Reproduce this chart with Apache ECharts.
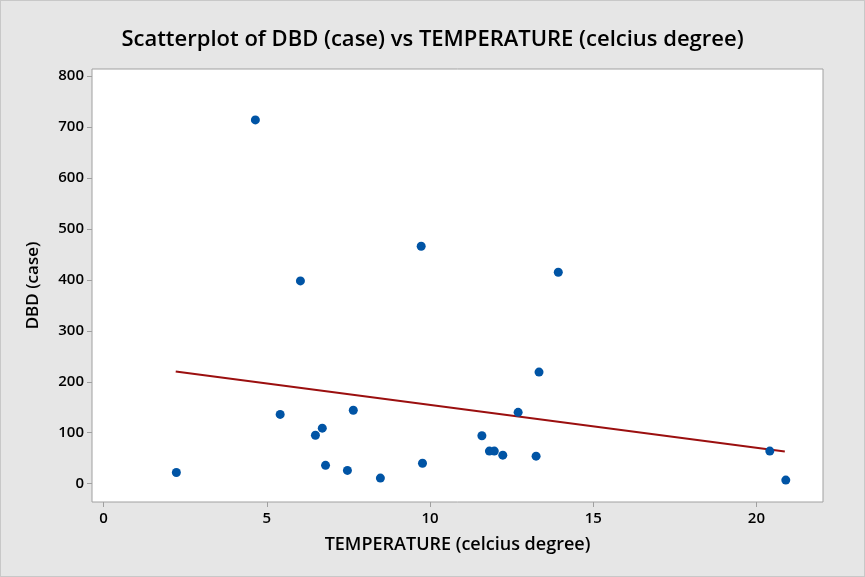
<!DOCTYPE html>
<html>
<head>
<meta charset="utf-8">
<script src="https://cdn.jsdelivr.net/npm/echarts@6/dist/echarts.min.js"></script>
<style>
  html, body { margin: 0; padding: 0; background: #ffffff; }
  #chart { width: 863px; height: 575px; border: 1px solid #c8c8c8; background: #e6e6e6; }
</style>
</head>
<body>
<div id="chart"></div>
<script>
'use strict';

// temperature (celcius degree) and DBD cases
var temperature = [2.23, 4.65, 6.03, 5.41, 6.49, 6.70, 6.80, 7.47, 7.65, 8.48, 9.73, 9.77,
    11.59, 11.82, 11.97, 12.23, 12.70, 13.25, 13.34, 13.93, 20.41, 20.90];
var dbdCases = [22, 714, 398, 136, 95, 109, 36, 26, 144, 11, 466, 40,
    94, 64, 64, 56, 140, 54, 219, 415, 64, 7];

// fitted regression line end points
var fitX = [2.21, 20.87];
var fitY = [220, 63];

var xTicks = [0, 5, 10, 15, 20];
var yTicks = [0, 100, 200, 300, 400, 500, 600, 700, 800];

var points = temperature.map(function(t, i) {
    return [t, dbdCases[i]];
});
var fitLine = fitX.map(function(t, i) {
    return [t, fitY[i]];
});

var FONT = '"Open Sans", "Noto Sans", sans-serif';

var myChart = echarts.init(document.getElementById('chart'));
var option = {
    animation: false,
    title: {
        text: 'Scatterplot of DBD (case) vs TEMPERATURE (celcius degree)',
        left: 'center',
        top: 23,
        textStyle: {
            fontFamily: FONT,
            fontSize: 22,
            fontWeight: 600,
            color: '#000'
        }
    },
    grid: {
        left: 91,
        top: 68,
        width: 731,
        height: 433,
        show: true,
        backgroundColor: '#ffffff',
        borderColor: '#a0a0a0',
        borderWidth: 1
    },
    xAxis: {
        type: 'value',
        min: -0.355,
        max: 22.04,
        name: 'TEMPERATURE (celcius degree)',
        nameLocation: 'middle',
        nameGap: 34,
        nameTextStyle: { fontFamily: FONT, fontSize: 18, fontWeight: 600, color: '#000' },
        splitLine: { show: false },
        axisLine: { show: false, onZero: false },
        axisTick: {
            show: true,
            customValues: xTicks,
            length: 5,
            lineStyle: { color: '#a0a0a0' }
        },
        axisLabel: {
            customValues: xTicks,
            margin: 9,
            fontFamily: FONT,
            fontSize: 15,
            fontWeight: 600,
            color: '#000'
        }
    },
    yAxis: {
        type: 'value',
        min: -36,
        max: 814,
        name: 'DBD (case)',
        nameLocation: 'middle',
        nameGap: 50,
        nameTextStyle: { fontFamily: FONT, fontSize: 17, fontWeight: 600, color: '#000' },
        splitLine: { show: false },
        axisLine: { show: false, onZero: false },
        axisTick: {
            show: true,
            customValues: yTicks,
            length: 5,
            lineStyle: { color: '#a0a0a0' }
        },
        axisLabel: {
            customValues: yTicks,
            margin: 8,
            fontFamily: FONT,
            fontSize: 15,
            fontWeight: 600,
            color: '#000'
        }
    },
    series: [{
        type: 'line',
        data: fitLine,
        symbol: 'none',
        lineStyle: { color: '#9b0f0f', width: 2 },
        z: 2
    }, {
        type: 'scatter',
        data: points,
        symbol: 'circle',
        symbolSize: 9,
        itemStyle: { color: '#0054a5', opacity: 1 },
        z: 3
    }]
};
myChart.setOption(option);
</script>
</body>
</html>
